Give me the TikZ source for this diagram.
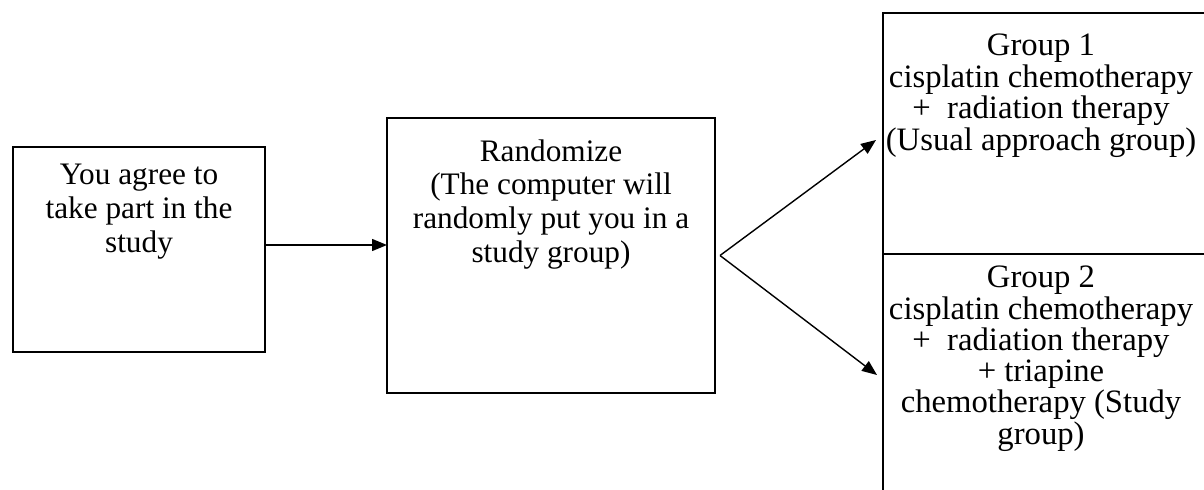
\documentclass[tikz,border=0pt]{standalone}
\usepackage{fontspec}
\setmainfont{Liberation Serif}
\usetikzlibrary{arrows.meta,positioning}
\begin{document}
\begin{tikzpicture}[box/.style={draw, line width=0.9pt, outer sep=0pt},
    txt/.style={anchor=north, align=center, inner sep=0pt, font=\fontsize{17.8}{19.2}\selectfont},
    grouptxt/.style={txt, font=\fontsize{18.6}{16.3}\selectfont},
    arr/.style={-{Triangle[length=3mm,width=2.4mm]}, line width=0.8pt}]
        \useasboundingbox (0,0) rectangle (24.08,9.78);
        \node [box, minimum width=5.04cm, minimum height=4.10cm] (agree) at (2.78,4.79) {};
        \node [box, minimum width=6.56cm, minimum height=5.50cm] (randomize) at (11.02,4.67) {};
        \node [box, minimum width=6.64cm, minimum height=4.82cm] (groupone) at (20.98,7.11) {};
        \node [box, minimum width=6.64cm, minimum height=4.92cm, below=0pt of groupone] (grouptwo) {};
        \node [txt] (agreetxt) at ([yshift=-0.34cm]agree.north) {You agree to\\take part in the\\study};
        \node [txt] (randomizetxt) at ([yshift=-0.42cm]randomize.north) {Randomize\\(The computer will\\randomly put you in a\\study group)};
        \node [grouptxt] (grouponetxt) at ([xshift=-0.16cm,yshift=-0.42cm]groupone.north) {Group 1\\cisplatin chemotherapy\\+~~radiation therapy\\(Usual approach group)};
        \node [grouptxt] (grouptwotxt) at ([xshift=-0.16cm,yshift=-0.24cm]grouptwo.north) {Group 2\\cisplatin chemotherapy\\+~~radiation therapy\\+ triapine\\chemotherapy (Study\\group)};
        \coordinate (fork) at ([xshift=0.1cm]randomize.east);
        \coordinate (tipone) at (17.52,6.98);
        \coordinate (tiptwo) at (17.54,2.28);
        \draw [arr] ([yshift=0.09cm]agree.east) -- ([yshift=0.09cm]agree.east -| randomize.west);
        \draw [arr] (fork) -- (tipone);
        \draw [arr] (fork) -- (tiptwo);
    \end{tikzpicture}
\end{document}
